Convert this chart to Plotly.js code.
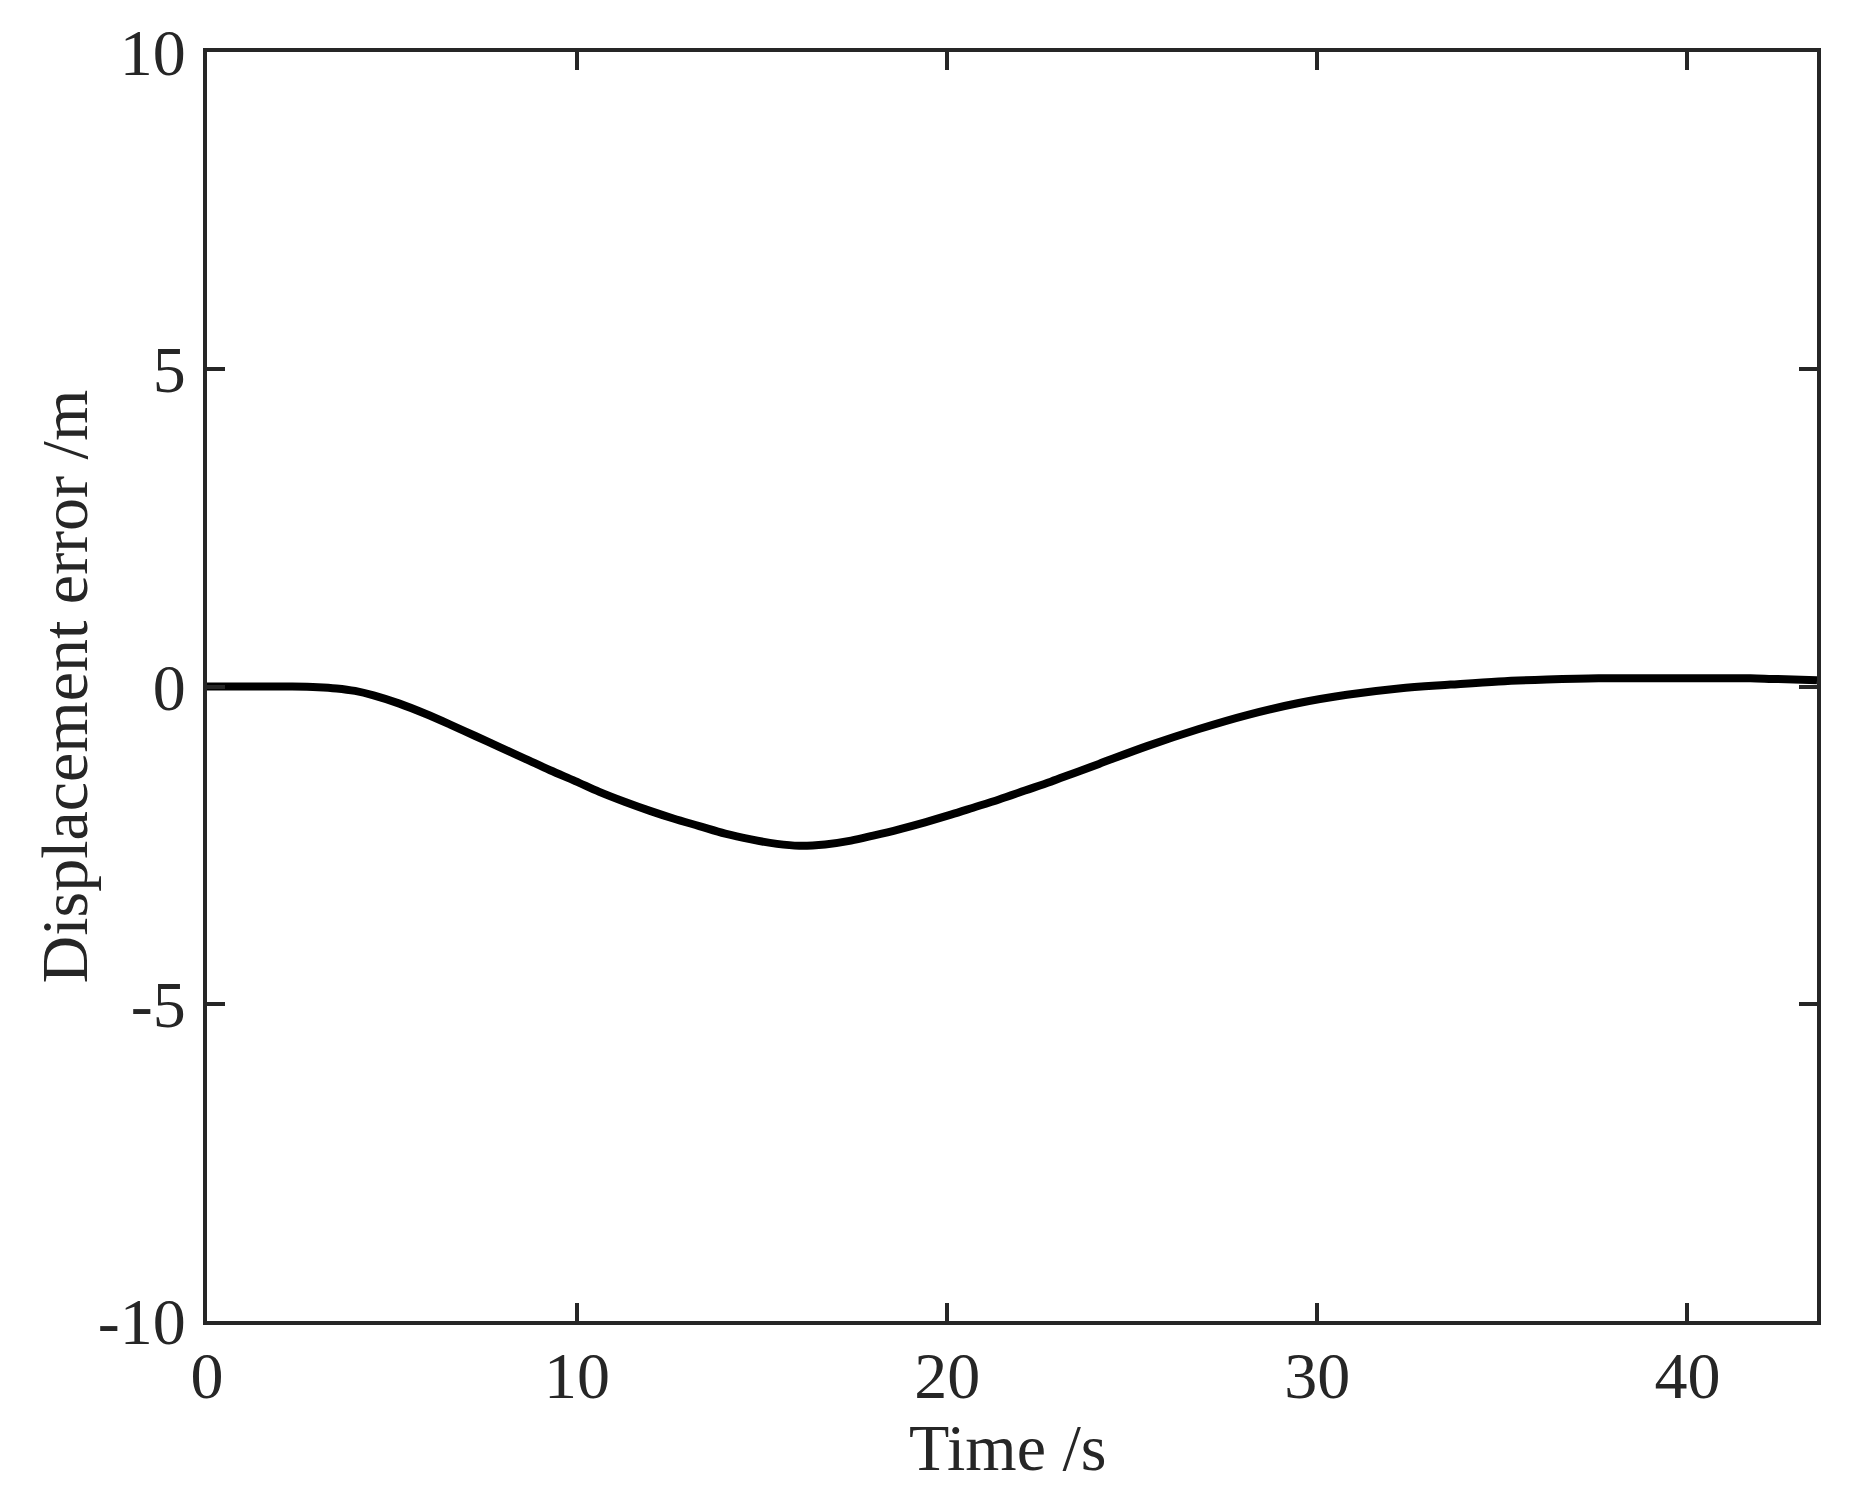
<!DOCTYPE html>
<html>
<head>
<meta charset="utf-8">
<script src="https://cdn.plot.ly/plotly-3.0.1.min.js"></script>
<style>html,body{margin:0;padding:0;background:#fff;}#chart{width:1855px;height:1506px;}</style>
</head>
<body>
<div id="chart"></div>
<script>
// Time (s)
var timeS = [0, 1, 2, 2.3, 3, 3.5, 4, 4.5, 5.2, 5.9, 6.57, 7.25, 7.92, 8.6, 9.27, 9.95, 10.6, 11.3, 11.97, 12.6, 13.3, 14.0, 14.7, 15.4, 16.0, 16.7, 17.4, 18.0, 18.7, 19.4, 20.1, 20.7, 21.4, 22.1, 22.8, 23.4, 24.1, 25.4, 26.8, 28.1, 29.5, 30.8, 32.2, 33.6, 34.9, 36.2, 37.6, 39.0, 40.4, 41.7, 42.3, 43.5];
// Displacement error (m)
var dispErr = [0, 0, 0, 0, -0.01, -0.03, -0.07, -0.14, -0.27, -0.43, -0.60, -0.78, -0.96, -1.14, -1.32, -1.49, -1.66, -1.82, -1.96, -2.08, -2.20, -2.32, -2.41, -2.48, -2.51, -2.49, -2.43, -2.35, -2.25, -2.14, -2.02, -1.91, -1.78, -1.64, -1.50, -1.37, -1.22, -0.94, -0.67, -0.45, -0.26, -0.13, -0.03, 0.03, 0.08, 0.11, 0.13, 0.13, 0.13, 0.13, 0.12, 0.10];
var xTicks = [0, 10, 20, 30, 40];
var yTicks = [-10, -5, 0, 5, 10];
var xTitle = 'Time /s';
var yTitle = 'Displacement error /m';

var axisColor = '#262626';
var fontFam = 'Liberation Serif, Times New Roman, serif';

var trace = {
  x: timeS, y: dispErr, type: 'scatter', mode: 'lines',
  line: {color: '#000000', width: 8, shape: 'spline', smoothing: 1},
  hoverinfo: 'skip'
};

var layout = {
  width: 1855, height: 1506,
  margin: {l: 207, r: 38, t: 52, b: 185},
  paper_bgcolor: '#ffffff', plot_bgcolor: '#ffffff',
  showlegend: false,
  font: {family: fontFam, color: axisColor, size: 66},
  xaxis: {
    range: [0, 43.5], tickvals: xTicks, ticktext: xTicks.map(String),
    ticks: 'inside', ticklen: 18, tickwidth: 4, tickcolor: axisColor,
    showline: true, linewidth: 4, linecolor: axisColor, mirror: 'ticks',
    showgrid: false, zeroline: false,
    tickfont: {family: fontFam, size: 66, color: axisColor},
    ticklabelstandoff: -6
  },
  yaxis: {
    range: [-10, 10], tickvals: yTicks, ticktext: yTicks.map(String),
    ticks: 'inside', ticklen: 18, tickwidth: 4, tickcolor: axisColor,
    showline: true, linewidth: 4, linecolor: axisColor, mirror: 'ticks',
    showgrid: false, zeroline: false,
    tickfont: {family: fontFam, size: 66, color: axisColor},
    ticklabelstandoff: 4
  },
  annotations: [
    {text: xTitle, xref: 'paper', yref: 'paper', x: 0.4969, y: -0.1,
     xanchor: 'center', yanchor: 'middle', showarrow: false,
     font: {family: fontFam, size: 66, color: axisColor}},
    {text: yTitle, xref: 'paper', yref: 'paper', x: -0.0888, y: 0.5,
     xanchor: 'center', yanchor: 'middle', textangle: -90, showarrow: false,
     font: {family: fontFam, size: 66, color: axisColor}}
  ]
};

Plotly.newPlot('chart', [trace], layout, {displayModeBar: false, staticPlot: true});
</script>
</body>
</html>
